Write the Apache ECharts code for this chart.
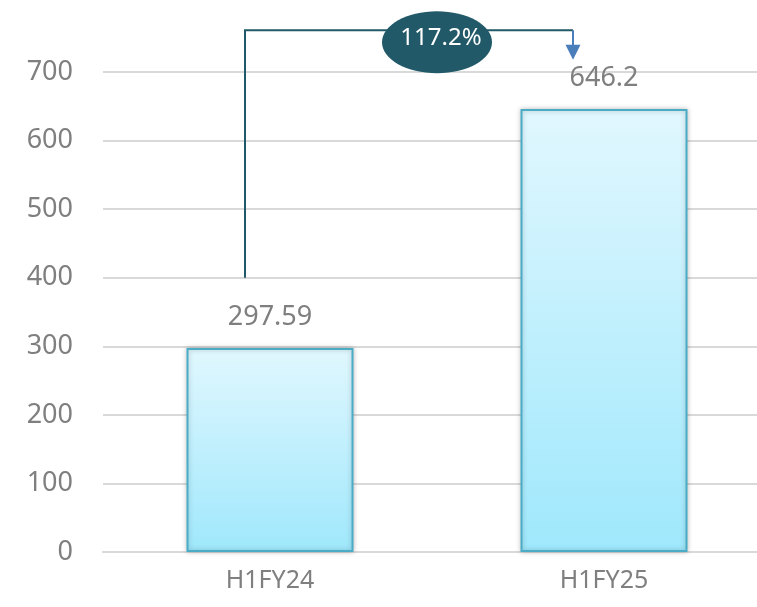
<!DOCTYPE html>
<html>
<head>
<meta charset="utf-8">
<script src="https://cdn.jsdelivr.net/npm/echarts@6/dist/echarts.min.js"></script>
<style>
  html, body { margin: 0; padding: 0; background: #fff; }
  #chart { width: 757px; height: 607px; }
</style>
</head>
<body>
<div id="chart"></div>
<script>
var categories = ["H1FY24", "H1FY25"];
var values = [297.59, 646.2];
var yTicks = [0, 100, 200, 300, 400, 500, 600, 700];
var growthLabel = "117.2%";

var fontFamily = "Noto Sans";
var textGray = "#7f7f7f";

var chart = echarts.init(document.getElementById("chart"));

chart.setOption({
  animation: false,
  backgroundColor: "#ffffff",
  grid: { left: 103, right: -14, top: 72, bottom: 55, outerBoundsMode: "none", containLabel: false },
  xAxis: {
    type: "category",
    data: categories,
    axisLine: { show: true, lineStyle: { color: "#d9d9d9", width: 2 } },
    axisTick: { show: false },
    axisLabel: { color: textGray, fontSize: 25, fontFamily: fontFamily, margin: 16 }
  },
  yAxis: {
    type: "value",
    min: yTicks[0],
    max: yTicks[yTicks.length - 1],
    interval: yTicks[1] - yTicks[0],
    axisLine: { show: false },
    axisTick: { show: false },
    axisLabel: { color: textGray, fontSize: 27, fontFamily: fontFamily, margin: 30 },
    splitLine: { lineStyle: { color: "#d9d9d9", width: 2 } }
  },
  series: [{
    type: "bar",
    data: values,
    barWidth: 167,
    itemStyle: {
      color: new echarts.graphic.LinearGradient(0, 0, 0, 1, [
        { offset: 0, color: "#e1f7fe" },
        { offset: 1, color: "#9fe8fc" }
      ]),
      borderColor: "#4bacc6",
      borderWidth: 2,
      shadowBlur: 5,
      shadowColor: "rgba(0,0,0,0.25)"
    },
    label: {
      show: true,
      position: "top",
      distance: 17,
      color: textGray,
      fontSize: 27,
      fontFamily: fontFamily
    }
  }]
});

// growth bracket, anchored to the bars through the axes
function px(cat, val) {
  return chart.convertToPixel({ xAxisIndex: 0, yAxisIndex: 0 }, [cat, val]);
}
var start = px(categories[0], 400);
var top1 = px(categories[0], 761);
var end = px(categories[1], 761);
var tip = px(categories[1], 718);
var x0 = start[0] - 25;
var x1 = end[0] - 31;
var yTop = top1[1];
var yTip = tip[1];
var cx = 437;

chart.setOption({
  graphic: [
    {
      type: "polyline",
      shape: { points: [[x0, start[1]], [x0, yTop], [x1, yTop]] },
      style: { stroke: "#215968", lineWidth: 2, fill: null }
    },
    {
      type: "line",
      shape: { x1: x1, y1: yTop, x2: x1, y2: yTip - 13 },
      style: { stroke: "#4a7ebb", lineWidth: 2 }
    },
    {
      type: "polygon",
      shape: { points: [[x1 - 7.5, yTip - 15], [x1 + 7.5, yTip - 15], [x1, yTip]] },
      style: { fill: "#4a7ebb" }
    },
    {
      type: "ellipse",
      shape: { cx: cx, cy: yTop + 12, rx: 55, ry: 31 },
      style: { fill: "#215968" }
    },
    {
      type: "text",
      x: cx + 4,
      y: yTop + 8,
      style: {
        text: growthLabel,
        fill: "#ffffff",
        fontSize: 24,
        fontFamily: fontFamily,
        align: "center",
        verticalAlign: "middle"
      }
    }
  ]
});
</script>
</body>
</html>
